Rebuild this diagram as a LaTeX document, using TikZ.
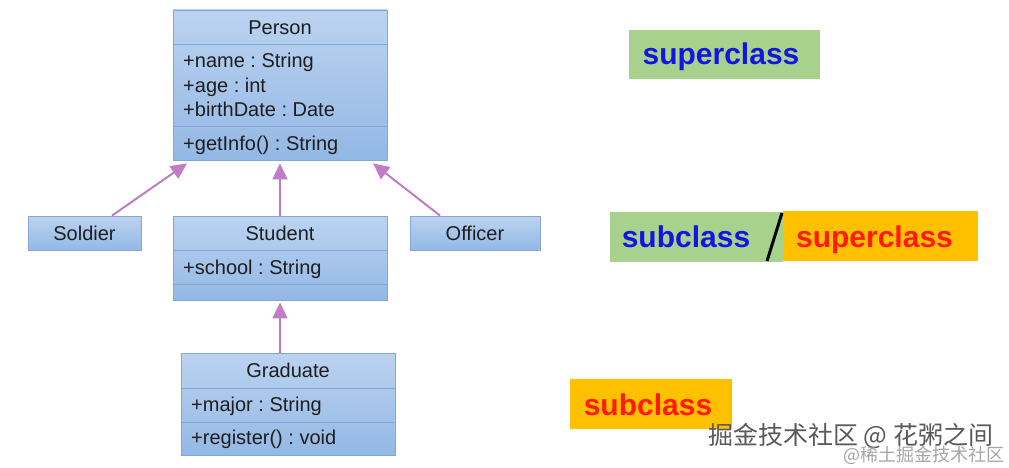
\documentclass[tikz,border=0pt]{standalone}
\usepackage{fontspec}
\setmainfont{Liberation Sans}
\newfontfamily\cjk{Noto Sans CJK SC}
\usetikzlibrary{arrows.meta,calc}
\definecolor{boxtop}{HTML}{BCD3F0}
\definecolor{boxbot}{HTML}{93B8E5}
\definecolor{boxline}{HTML}{84A8D6}
\definecolor{inhcol}{HTML}{C07CC8}
\definecolor{lgreen}{HTML}{A9D18E}
\definecolor{lorange}{HTML}{FFC000}
\definecolor{lblue}{HTML}{1414E0}
\definecolor{lred}{HTML}{FF1A0A}
\definecolor{txt}{HTML}{1E1E1E}
\frenchspacing
\tikzset{
  cls/.style={draw=boxline, line width=0.8pt, top color=boxtop, bottom color=boxbot, inner sep=0pt},
  divider/.style={draw=boxline, line width=0.8pt},
  ctext/.style={text=txt, font=\fontsize{20}{24}\selectfont, inner sep=0pt, anchor=base},
  atext/.style={ctext, anchor=base west},
  inh/.style={draw=inhcol, line width=2pt, -{Triangle[length=16pt,width=15pt]}},
  lab/.style={inner sep=0pt, font=\fontsize{30}{36}\selectfont\bfseries},
  labt/.style={lab, anchor=base},
  wm/.style={inner sep=0pt, font=\cjk\fontsize{25}{30}\selectfont, text=black!65},
}
\begin{document}
\begin{tikzpicture}[x=1pt,y=-1pt]
\useasboundingbox[fill=white] (0,0) rectangle (1009,468);

% Person
\node[cls, minimum width=214pt, minimum height=150pt] (person) at (280,85) {};
\draw[divider] (173,44) -- (387,44);
\draw[divider] (173,126) -- (387,126);
\node[ctext] (pname) at (280,35) {Person};
\node[atext] (pa1) at (183,68) {+name : String};
\node[atext] (pa2) at (183,92.5) {+age : int};
\node[atext] (pa3) at (183,116.5) {+birthDate : Date};
\node[atext] (pm1) at (183,150.5) {+getInfo() : String};

% Soldier
\node[cls, minimum width=113pt, minimum height=34pt] (soldier) at (84.5,233) {};
\node[ctext] (sname) at (84.5,240) {Soldier};

% Student
\node[cls, minimum width=214pt, minimum height=84pt] (student) at (280,258) {};
\draw[divider] (173,250) -- (387,250);
\draw[divider] (173,284) -- (387,284);
\node[ctext] (stname) at (280,240) {Student};
\node[atext] (sta1) at (183,274.5) {+school : String};

% Officer
\node[cls, minimum width=130pt, minimum height=34pt] (officer) at (475,233) {};
\node[ctext] (oname) at (475,240) {Officer};

% Graduate
\node[cls, minimum width=214pt, minimum height=102pt] (graduate) at (288,404) {};
\draw[divider] (181,388) -- (395,388);
\draw[divider] (181,422) -- (395,422);
\node[ctext] (gname) at (288,377.5) {Graduate};
\node[atext] (ga1) at (191,411) {+major : String};
\node[atext] (gm1) at (191,444.5) {+register() : void};

% inheritance arrows
\draw[inh] ([xshift=27.5pt]soldier.north) -- ([xshift=-93pt,yshift=-3pt]person.south);
\draw[inh] (student.north) -- ([yshift=-3pt]person.south);
\draw[inh] ([xshift=-35pt]officer.north) -- ([xshift=93pt,yshift=-3pt]person.south);
\draw[inh] ([xshift=-8pt]graduate.north) -- ([yshift=-2pt]student.south);

% right labels
\node[lab, fill=lgreen, minimum width=191pt, minimum height=49pt] (sup) at (724.5,54.5) {};
\node[labt, text=lblue] (suptext) at (721,65) {superclass};

\node[lab, fill=lgreen, minimum width=173pt, minimum height=50pt] (midsub) at (696.5,236.5) {};
\node[lab, fill=lorange, minimum width=195pt, minimum height=50pt] (midsup) at (880.5,236) {};
\node[labt, text=lblue] (midsubtext) at (686,247) {subclass};
\node[labt, text=lred] (midsuptext) at (874.5,247) {superclass};
\coordinate (slashb) at (767,261);
\coordinate (slasht) at (782,213);
\draw[line width=3pt] (slashb) -- (slasht);

\node[lab, fill=lorange, minimum width=162pt, minimum height=50pt] (sub) at (651,404) {};
\node[labt, text=lred] (subtext) at (648,415) {subclass};

% watermark
\node[wm, anchor=west] (wm1) at (708,436) {掘金技术社区 @ 花粥之间};
\node[wm, anchor=west, font=\cjk\fontsize{18}{22}\selectfont, text=black!35] (wm2) at (843,455) {@稀土掘金技术社区};
\end{tikzpicture}
\end{document}
